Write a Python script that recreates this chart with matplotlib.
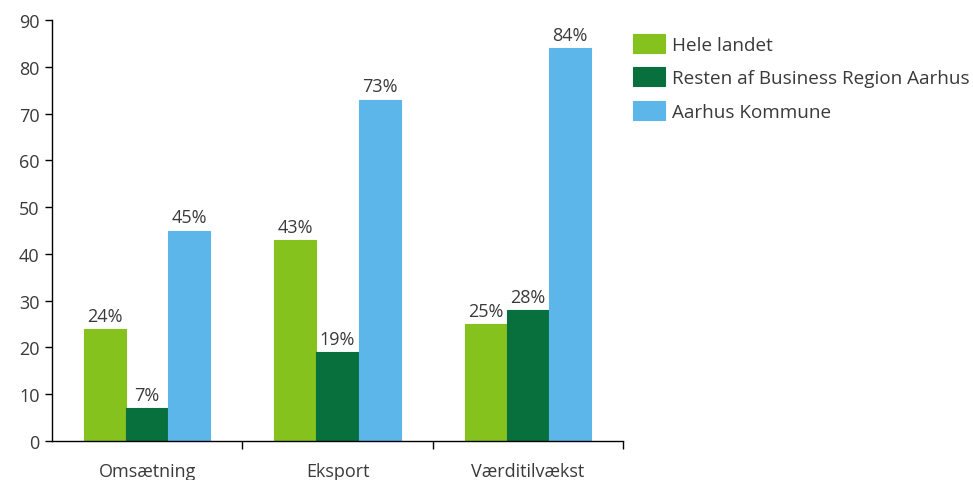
import numpy as np
import matplotlib
matplotlib.use('Agg')
import matplotlib.pyplot as plt

plt.rcParams['font.family'] = ['Open Sans', 'DejaVu Sans']

categories = ['Omsætning', 'Eksport', 'Værditilvækst']
series_names = ['Hele landet', 'Resten af Business Region Aarhus', 'Aarhus Kommune']
hele_landet = [24, 43, 25]
resten_bra = [7, 19, 28]
aarhus_kommune = [45, 73, 84]
y_ticks = [0, 10, 20, 30, 40, 50, 60, 70, 80, 90]

colors = ['#86C21E', '#07703C', '#5DB6EA']
text_color = '#3A3A3A'
fs = 13

fig = plt.figure(figsize=(9.73, 4.81), dpi=100)
ax = fig.add_axes([52 / 973, 39 / 481, 571 / 973, 421 / 481])

x = np.arange(len(categories))
width = 0.221
offsets = [-width, 0, width]
for vals, off, col, name in zip([hele_landet, resten_bra, aarhus_kommune],
                                offsets, colors, series_names):
    bars = ax.bar(x + off, vals, width, color=col, label=name,
                  edgecolor=col, linewidth=0.8)
    for b, v in zip(bars, vals):
        ax.annotate(f'{v}%', (b.get_x() + b.get_width() / 2, v),
                    xytext=(0, 3), textcoords='offset points',
                    ha='center', va='bottom', fontsize=fs, color=text_color)

ax.set_xlim(-0.5, 2.5)
ax.set_ylim(0, 90)
ax.set_yticks(y_ticks)
ax.tick_params(axis='y', labelsize=fs, labelcolor=text_color,
               direction='out', length=5, width=1, pad=4)

# group separators as major ticks, category names as minor ticks
ax.set_xticks([0.5, 1.5, 2.5])
ax.set_xticklabels([])
ax.set_xticks(x, minor=True)
ax.set_xticklabels(categories, minor=True)
ax.tick_params(axis='x', which='major', direction='out', length=6, width=1)
ax.tick_params(axis='x', which='minor', length=0, pad=15,
               labelsize=fs, labelcolor=text_color)

for s in ['top', 'right']:
    ax.spines[s].set_visible(False)
for s in ['left', 'bottom']:
    ax.spines[s].set_linewidth(1)
    ax.spines[s].set_color('black')

leg = ax.legend(loc='upper left', bbox_to_anchor=(633 / 973, 446 / 481),
                bbox_transform=fig.transFigure, frameon=False,
                fontsize=13.6, handlelength=1.7, handleheight=1.17,
                handletextpad=0.38, labelspacing=0.72, borderaxespad=0,
                borderpad=0)
for t in leg.get_texts():
    t.set_color(text_color)

fig.savefig('out.png', dpi=100)
